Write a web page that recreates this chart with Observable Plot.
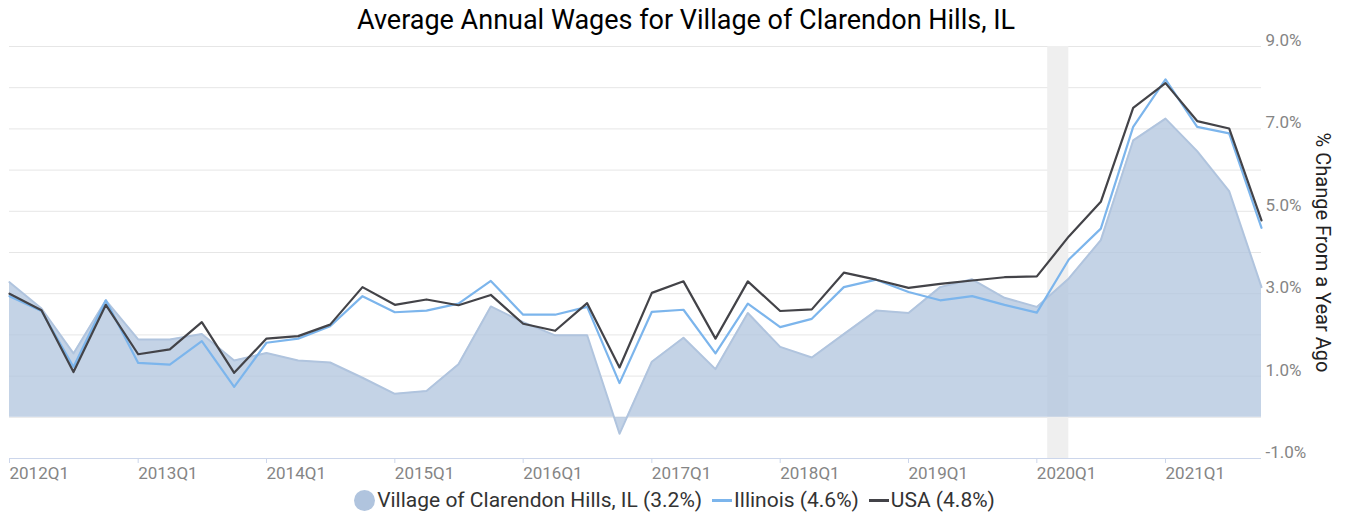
<!DOCTYPE html>
<html>
<head>
<meta charset="utf-8">
<script src="https://cdn.jsdelivr.net/npm/d3@7"></script>
<script src="https://cdn.jsdelivr.net/npm/@observablehq/plot@0.6"></script>
<style>
  html, body { margin: 0; padding: 0; background: #fff; }
  body { position: relative; width: 1349px; height: 514px; overflow: hidden; font-family: Roboto, "Noto Sans", sans-serif; }
  #title { position: absolute; left: 0; top: 0; width: 1349px; height: 40px; line-height: 40px; text-align: center; padding-left: 23px; box-sizing: border-box; font-size: 27px; color: #000; white-space: nowrap; z-index: 2; }
  #chart { position: absolute; left: 0; top: 0; }
  #chart svg { display: block; }
  #legend { position: absolute; left: 0; top: 485px; width: 1349px; height: 30px; display: flex; justify-content: center; align-items: center; font-size: 21px; color: #333; white-space: nowrap; }
  .item { display: flex; align-items: center; margin: 0 5px; }
  .circ { width: 21px; height: 21px; border-radius: 50%; margin-right: 2px; }
  .ln { width: 20px; height: 3px; margin-right: 2px; }
</style>
</head>
<body>
<div id="chart"></div>
<div id="title">Average Annual Wages for Village of Clarendon Hills, IL</div>
<div id="legend"></div>
<script>
const quarters = [
  "2012Q1","2012Q2","2012Q3","2012Q4","2013Q1","2013Q2","2013Q3","2013Q4",
  "2014Q1","2014Q2","2014Q3","2014Q4","2015Q1","2015Q2","2015Q3","2015Q4",
  "2016Q1","2016Q2","2016Q3","2016Q4","2017Q1","2017Q2","2017Q3","2017Q4",
  "2018Q1","2018Q2","2018Q3","2018Q4","2019Q1","2019Q2","2019Q3","2019Q4",
  "2020Q1","2020Q2","2020Q3","2020Q4","2021Q1","2021Q2","2021Q3","2021Q4"
];
const village = [3.28, 2.64, 1.55, 2.84, 1.89, 1.89, 2.02, 1.38, 1.56, 1.38, 1.33, 0.96, 0.57, 0.64, 1.29, 2.69, 2.31, 1.99, 1.99, -0.40, 1.35, 1.93, 1.17, 2.53, 1.71, 1.45, 2.02, 2.59, 2.53, 3.16, 3.35, 2.90, 2.68, 3.37, 4.30, 6.72, 7.25, 6.46, 5.49, 3.16];
const illinois = [2.94, 2.58, 1.22, 2.84, 1.32, 1.28, 1.85, 0.74, 1.81, 1.91, 2.21, 2.94, 2.55, 2.59, 2.76, 3.31, 2.49, 2.49, 2.68, 0.83, 2.56, 2.61, 1.55, 2.76, 2.19, 2.39, 3.16, 3.34, 3.04, 2.84, 2.94, 2.73, 2.54, 3.83, 4.58, 7.05, 8.20, 7.05, 6.89, 4.60];
const usa = [3.00, 2.60, 1.10, 2.73, 1.53, 1.65, 2.31, 1.08, 1.91, 1.97, 2.25, 3.16, 2.73, 2.86, 2.72, 2.97, 2.27, 2.10, 2.77, 1.21, 3.02, 3.30, 1.91, 3.30, 2.58, 2.62, 3.51, 3.34, 3.14, 3.24, 3.32, 3.40, 3.42, 4.39, 5.23, 7.51, 8.11, 7.19, 7.01, 4.78];
const seriesNames = ["Village of Clarendon Hills, IL", "Illinois", "USA"];
const seriesColors = ["#b0c4de", "#7cb5ec", "#434348"];
const xTickLabels = ["2012Q1","2013Q1","2014Q1","2015Q1","2016Q1","2017Q1","2018Q1","2019Q1","2020Q1","2021Q1"];
const yDomain = [-1, 9];
const yGridTicks = [-1, 0, 1, 2, 3, 4, 5, 6, 7, 8, 9];
const yLabelTicks = [-1, 1, 3, 5, 7, 9];
const recessions = [{start: "2020-02-01", end: "2020-04-01"}];
const yTitle = "% Change From a Year Ago";

const qDate = q => new Date(Date.UTC(+q.slice(0, 4), (+q.slice(5) - 1) * 3, 1));
const rows = quarters.map((q, i) => ({date: qDate(q), village: village[i], illinois: illinois[i], usa: usa[i]}));
const xTicks = xTickLabels.map(qDate);
const labelOf = new Map(xTickLabels.map(l => [+qDate(l), l]));
const rec = recessions.map(r => ({start: new Date(r.start + "T00:00:00Z"), end: new Date(r.end + "T00:00:00Z")}));

const chart = Plot.plot({
  width: 1349,
  height: 485,
  marginLeft: 9,
  marginRight: 88,
  marginTop: 46,
  marginBottom: 27,
  style: {fontFamily: "Roboto, sans-serif", background: "transparent"},
  x: {type: "utc", domain: [rows[0].date, rows[rows.length - 1].date]},
  y: {domain: yDomain},
  marks: [
    Plot.gridY(yGridTicks, {stroke: "#e6e6e6", strokeOpacity: 1}),
    Plot.rect(rec, {x1: "start", x2: "end", y1: yDomain[0], y2: yDomain[1], fill: "#efefef"}),
    Plot.areaY(rows, {x: "date", y: "village", fill: seriesColors[0], fillOpacity: 0.75}),
    Plot.lineY(rows, {x: "date", y: "village", stroke: seriesColors[0], strokeWidth: 2}),
    Plot.lineY(rows, {x: "date", y: "illinois", stroke: seriesColors[1], strokeWidth: 2.2}),
    Plot.lineY(rows, {x: "date", y: "usa", stroke: seriesColors[2], strokeWidth: 2.2}),
    Plot.ruleY([yDomain[0]], {stroke: "#ccd6eb"}),
    Plot.axisX(xTicks, {tickFormat: d => labelOf.get(+d), textAnchor: "start", dx: 0, tickSize: 5, tickPadding: 3, stroke: "#ccd6eb", fill: "#858585", fontSize: 17, label: null}),
    Plot.axisY(yLabelTicks, {anchor: "right", tickSize: 0, tickPadding: 4, dy: -6, textAnchor: "start", tickFormat: d => d.toFixed(1) + "%", fill: "#858585", fontSize: 17, label: null}),
    Plot.text([yTitle], {frameAnchor: "right", rotate: 90, dx: 61, text: d => d, fontSize: 20, fill: "#222", textAnchor: "middle"})
  ]
});
document.getElementById("chart").appendChild(chart);

const lastVals = [village, illinois, usa].map(a => a[a.length - 1]);
const legend = document.getElementById("legend");
seriesNames.forEach((name, i) => {
  const item = document.createElement("div");
  item.className = "item";
  const sym = document.createElement("span");
  sym.className = i === 0 ? "circ" : "ln";
  sym.style.background = seriesColors[i];
  const txt = document.createElement("span");
  txt.textContent = `${name} (${lastVals[i].toFixed(1)}%)`;
  item.appendChild(sym);
  item.appendChild(txt);
  legend.appendChild(item);
});
</script>
</body>
</html>
